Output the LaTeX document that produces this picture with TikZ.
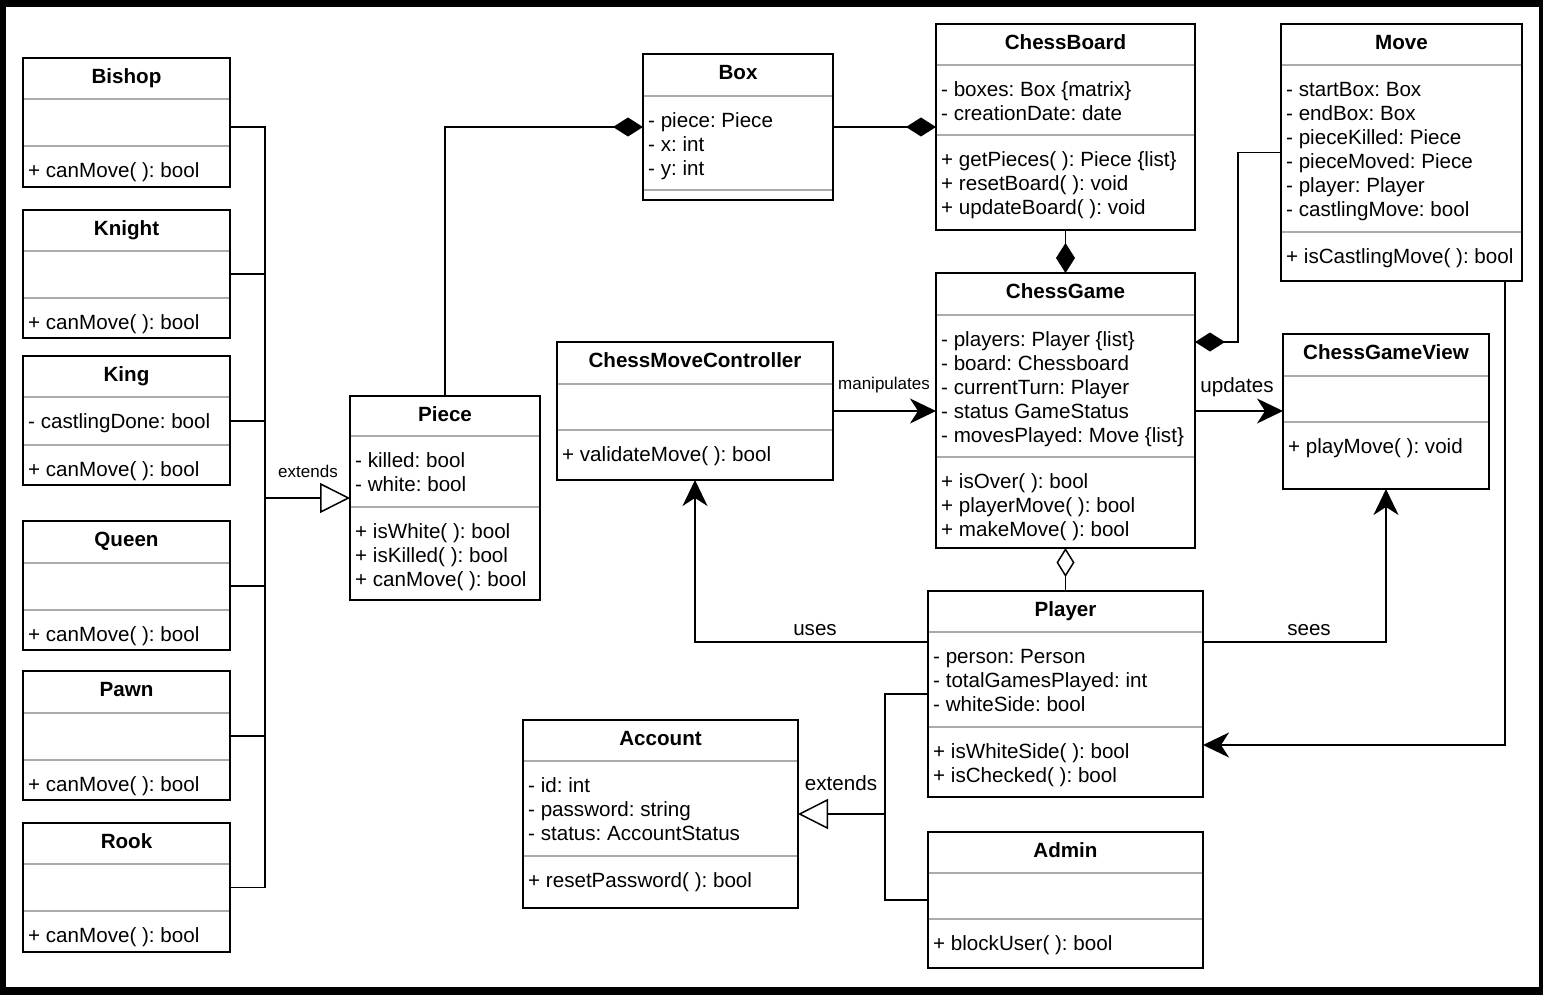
\documentclass[tikz,border=0pt]{standalone}
\usepackage{fontspec}
\setmainfont{Liberation Sans}
\usetikzlibrary{arrows.meta}
\frenchspacing

% class box: name, x1, y1, x2, y2, title
\newcommand\umlclass[6]{%
  \node[classbox, minimum width={#4-#2}, minimum height={#5-#3}] (#1) at (#2,#3) {};
  \node[titletext, anchor=base] (#1-title) at ({(#2+#4)/2},{#3+25.5}) {#6};
  \def\clsxa{#2}\def\clsxb{#4}}
% compartment: separator y, lines of text
\newcommand\umlsec[2]{%
  \draw[sepline] ({\clsxa+1},#1) -- ({\clsxb-1},#1);
  \node[lines] at ({\clsxa+5},{#1+14.2}) {\strut #2};}

\begin{document}
\begin{tikzpicture}[x=1pt,y=-1pt,
  classbox/.style={draw=black, line width=1.8pt, fill=white, inner sep=0pt, outer sep=0pt, anchor=north west},
  sepline/.style={draw=black!33, line width=1.6pt},
  titletext/.style={font=\fontsize{20.6}{24}\selectfont\bfseries, inner sep=0pt},
  lines/.style={font=\fontsize{20.6}{24}\selectfont, align=left, inner sep=0pt, anchor=north west},
  lbl/.style={font=\fontsize{20.6}{24}\selectfont, inner sep=0pt, anchor=base},
  smalllbl/.style={font=\fontsize{17}{20}\selectfont, inner sep=0pt, anchor=base},
  conn/.style={draw=black, line width=1.8pt},
  extends/.style={conn, -{Triangle[length=30pt, width=30pt, fill=white, line width=1.5pt]}},
  composition/.style={conn, -{Diamond[length=30pt, width=19pt]}},
  aggregation/.style={conn, -{Diamond[length=29pt, width=18pt, fill=white, line width=1.5pt]}},
  assoc/.style={conn, -{Stealth[length=26pt, width=25pt, inset=8pt]}}
]
\useasboundingbox (0,0) rectangle (1543,995);
% frame
\fill[black] (0,0) rectangle (1543,995);
\fill[white] (6,7) rectangle (1539,987);

% chess pieces
\umlclass{bishop}{23}{58}{230}{187}{Bishop}
\umlsec{99}{}
\umlsec{146}{+ canMove( ): bool}

\umlclass{knight}{23}{210}{230}{338}{Knight}
\umlsec{251}{}
\umlsec{298}{+ canMove( ): bool}

\umlclass{king}{23}{356}{230}{485}{King}
\umlsec{397}{- castlingDone: bool}
\umlsec{445}{+ canMove( ): bool}

\umlclass{queen}{23}{521}{230}{650}{Queen}
\umlsec{563}{}
\umlsec{610}{+ canMove( ): bool}

\umlclass{pawn}{23}{671}{230}{800}{Pawn}
\umlsec{713}{}
\umlsec{760}{+ canMove( ): bool}

\umlclass{rook}{23}{823}{230}{952}{Rook}
\umlsec{864}{}
\umlsec{911}{+ canMove( ): bool}

\umlclass{piece}{350}{396}{540}{600}{Piece}
\umlsec{436}{- killed: bool\\- white: bool}
\umlsec{507}{+ isWhite( ): bool\\+ isKilled( ): bool\\+ canMove( ): bool}

% board
\umlclass{box}{643}{54}{833}{200}{Box}
\umlsec{96}{- piece: Piece\\- x: int\\- y: int}
\umlsec{190}{}

\umlclass{chessboard}{936}{24}{1195}{230}{ChessBoard}
\umlsec{65}{- boxes: Box \{matrix\}\\- creationDate: date}
\umlsec{135}{+ getPieces( ): Piece \{list\}\\+ resetBoard( ): void\\+ updateBoard( ): void}

\umlclass{chessgame}{936}{273}{1195}{548}{ChessGame}
\umlsec{315}{- players: Player \{list\}\\- board: Chessboard\\- currentTurn: Player\\- status GameStatus\\- movesPlayed: Move \{list\}}
\umlsec{457}{+ isOver( ): bool\\+ playerMove( ): bool\\+ makeMove( ): bool}

\umlclass{move}{1281}{24}{1522}{281}{Move}
\umlsec{65}{- startBox: Box\\- endBox: Box\\- pieceKilled: Piece\\- pieceMoved: Piece\\- player: Player\\- castlingMove: bool}
\umlsec{232}{+ isCastlingMove( ): bool}

\umlclass{view}{1283}{334}{1489}{489}{ChessGameView}
\umlsec{376}{}
\umlsec{422}{+ playMove( ): void}

\umlclass{controller}{557}{342}{833}{480}{ChessMoveController}
\umlsec{384}{}
\umlsec{430}{+ validateMove( ): bool}

% users
\umlclass{player}{928}{591}{1203}{797}{Player}
\umlsec{632}{- person: Person\\- totalGamesPlayed: int\\- whiteSide: bool}
\umlsec{727}{+ isWhiteSide( ): bool\\+ isChecked( ): bool}

\umlclass{account}{523}{720}{798}{908}{Account}
\umlsec{761}{- id: int\\- password: string\\- status: AccountStatus}
\umlsec{856}{+ resetPassword( ): bool}

\umlclass{admin}{928}{832}{1203}{968}{Admin}
\umlsec{873}{}
\umlsec{919}{+ blockUser( ): bool}

% inheritance of the pieces
\coordinate (genbus) at (265,498);
\draw[conn] ([yshift=-4.5pt]bishop.east) -| (genbus);
\draw[conn] (knight.east) -| (genbus);
\draw[conn] ([yshift=-0.5pt]king.east) -| (genbus);
\draw[conn] ([yshift=-0.5pt]queen.east) -| (genbus);
\draw[conn] ([yshift=-0.5pt]pawn.east) -| (genbus);
\draw[conn] (rook.east) -| (genbus);
\draw[extends] (genbus) -- (piece.west);
\node[smalllbl] (ext-piece) at (308,477) {extends};

% compositions
\draw[composition] (piece.north) |- (box.west);
\draw[composition] (box.east) -- (chessboard.west);
\draw[composition] (chessboard.south) -- (chessgame.north);
\coordinate (movebend) at (1238,342);
\draw[composition] (move.west) -| (movebend) -- (chessgame.east |- movebend);
\draw[aggregation] (player.north) -- (chessgame.south);

% associations
\draw[assoc] (controller.east) -- (chessgame.west |- controller.east);
\node[smalllbl] (manip) at (884,389) {manipulates};
\draw[assoc] ([yshift=-0.5pt]chessgame.east) -- (view.west |- controller.east);
\node[lbl] (upd) at (1237,392) {updates};
\draw[assoc] ([yshift=52pt]player.west) -| (controller.south);
\node[lbl] (uses) at (815,635) {uses};
\draw[assoc] ([yshift=52pt]player.east) -| (view.south);
\node[lbl] (sees) at (1309,635) {sees};
\draw[assoc] ([xshift=-17pt]move.south east) |- ([yshift=-51pt]player.east);

% account inheritance
\coordinate (accbus) at (885,814);
\draw[conn] (player.west) -| (accbus);
\draw[conn] (admin.west) -| (accbus);
\draw[extends] (accbus) -- (account.east);
\node[lbl] (ext-acc) at (841,790) {extends};
\end{tikzpicture}
\end{document}
